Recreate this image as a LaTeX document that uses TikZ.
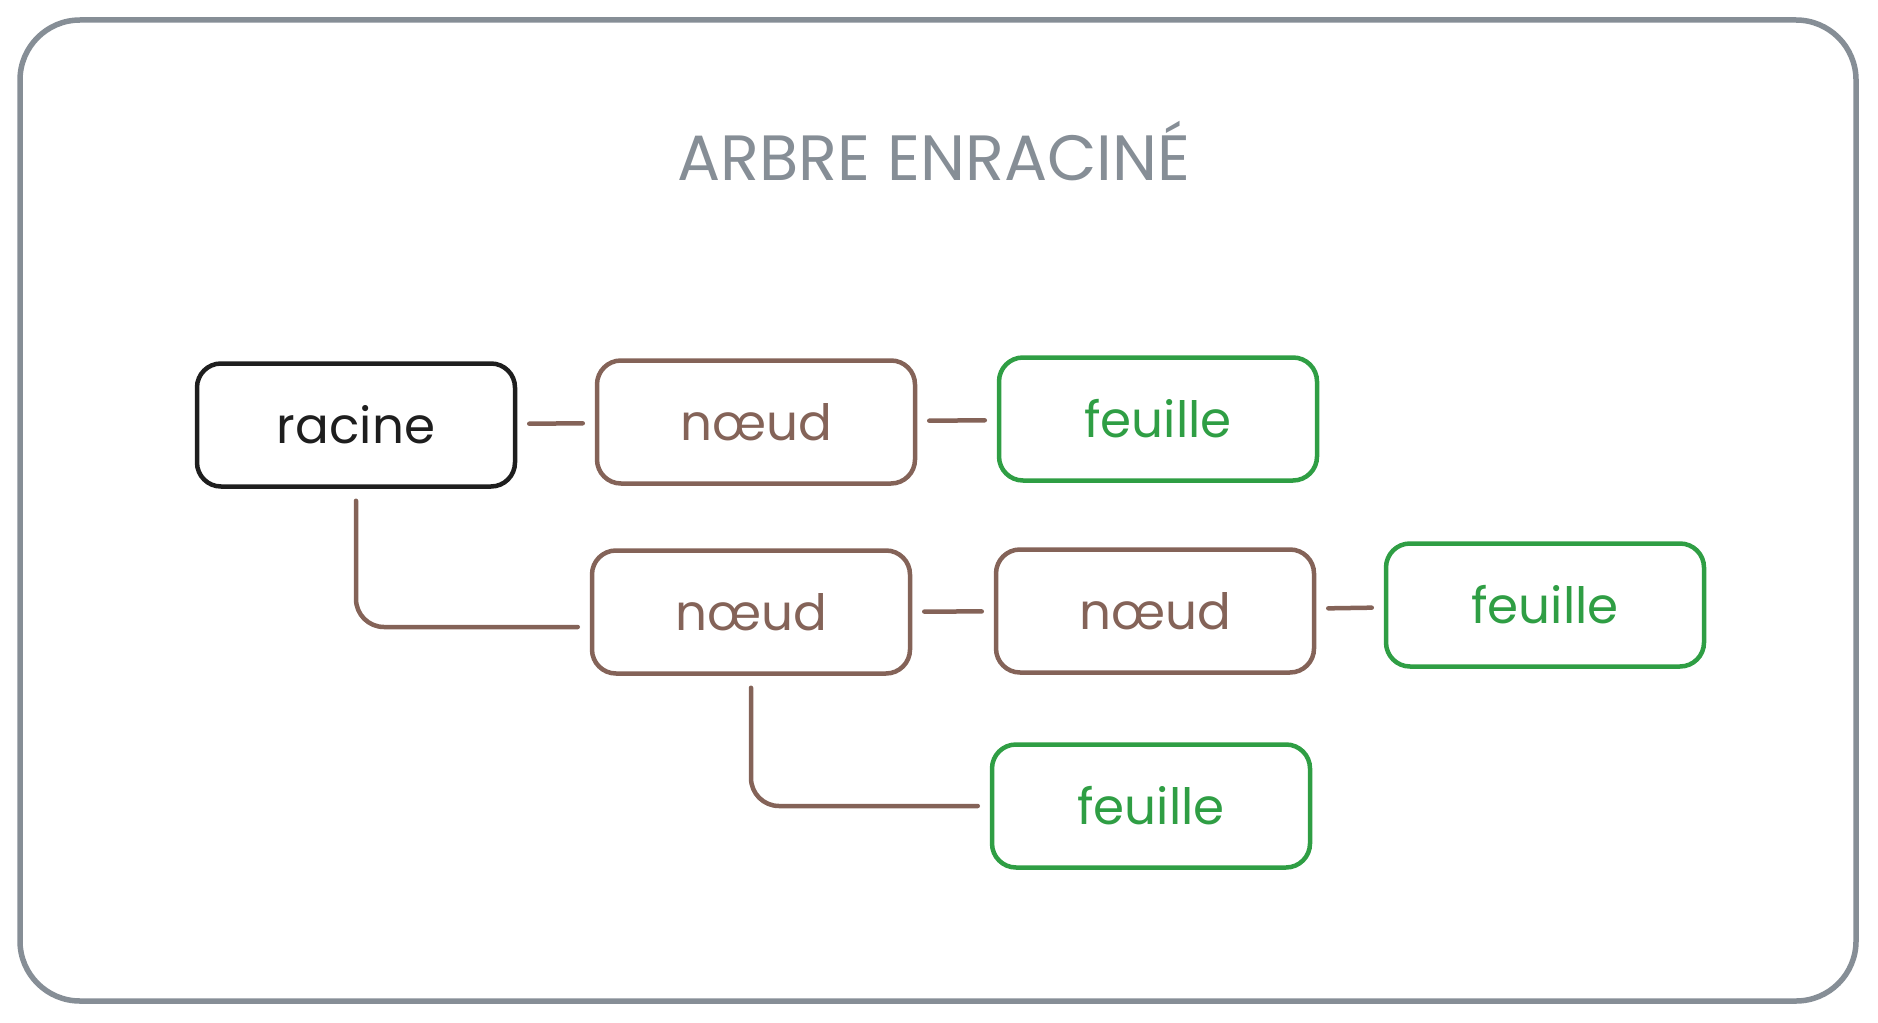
\documentclass[tikz,border=0pt]{standalone}
\usepackage{fontspec}
\setmainfont{Poppins}
\definecolor{exblack}{HTML}{1E1E1E}
\definecolor{exbrown}{HTML}{846358}
\definecolor{exgreen}{HTML}{2F9E44}
\definecolor{exgray}{HTML}{868E96}
\begin{document}
\begin{tikzpicture}[x=1pt,y=-1pt,
  box/.style={draw, line width=4.5pt, rounded corners=24pt, minimum width=318pt, minimum height=123pt, font=\fontsize{50}{60}\selectfont},
  rootbox/.style={box, draw=exblack, text=exblack},
  innerbox/.style={box, draw=exbrown, text=exbrown},
  leafbox/.style={box, draw=exgreen, text=exgreen},
  link/.style={draw=exbrown, line width=4.5pt, line cap=round, shorten >=12pt, shorten <=12pt},
  elbow/.style={link, rounded corners=28pt}]
\useasboundingbox (0,0) rectangle (1878,1022);
\draw[exgray, line width=5.5pt, rounded corners=60pt] (20,20) rectangle (1856,1001);
\node[font=\fontsize{64}{74}\selectfont, text=exgray] (title) at (934,151) {ARBRE ENRACINÉ};
\node[rootbox] (racine) at (356,425) {racine};
\node[innerbox] (n1) at (756,422) {nœud};
\node[leafbox] (f1) at (1158,419) {feuille};
\node[innerbox] (n2) at (751,612) {nœud};
\node[innerbox] (n3) at (1155,611) {nœud};
\node[leafbox] (f2) at (1545,605) {feuille};
\node[leafbox] (f3) at (1151,806) {feuille};
\draw[link] (racine) -- (n1);
\draw[link] (n1) -- (f1);
\draw[link] (n2) -- (n3);
\draw[link] (n3) -- (f2);
\draw[elbow] (racine.south) |- ([yshift=-15pt]n2.west);
\draw[elbow] (n2.south) |- (f3.west);
\end{tikzpicture}
\end{document}
